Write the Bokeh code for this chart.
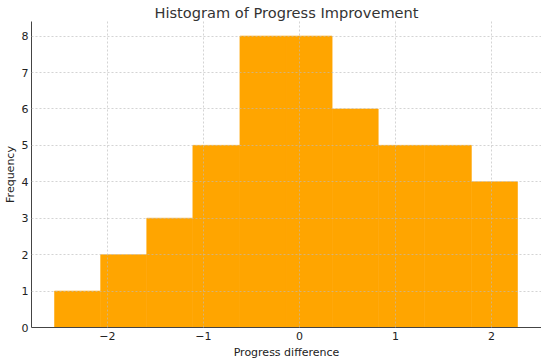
from bokeh.plotting import figure
from bokeh.models import ColumnDataSource, Range1d, FixedTicker
from bokeh.embed import file_html
from bokeh.resources import INLINE

bin_edges = [-2.55, -2.07, -1.59, -1.11, -0.62, -0.14, 0.34, 0.82, 1.30, 1.79, 2.27]
counts = [1, 2, 3, 5, 8, 8, 6, 5, 5, 4]
x_ticks = [-2, -1, 0, 1, 2]
x_tick_labels = ["\u22122", "\u22121", "0", "1", "2"]
y_ticks = [0, 1, 2, 3, 4, 5, 6, 7, 8]

src = ColumnDataSource(dict(left=bin_edges[:-1], right=bin_edges[1:], top=counts,
                            bottom=[0] * len(counts)))

FONT = "DejaVu Sans"
p = figure(frame_width=510, frame_height=306, output_backend="svg", toolbar_location=None,
           title="Histogram of Progress Improvement",
           x_range=Range1d(-2.79, 2.52), y_range=Range1d(0, 8.4),
           min_border_left=0, min_border_right=0, min_border_top=0, min_border_bottom=0)
p.outline_line_color = None
p.background_fill_color = "white"
p.border_fill_color = "white"

p.quad(left="left", right="right", top="top", bottom="bottom", source=src,
       fill_color="#FFA500", line_color="#FFA500", line_width=0.6)

p.title.text_font = FONT
p.title.text_font_size = "14.6px"
p.title.text_font_style = "normal"
p.title.text_color = "#333333"
p.title.align = "center"
p.title.standoff = 2

for ax in (p.xaxis[0], p.yaxis[0]):
    ax.major_tick_out = 0
    ax.major_tick_in = 0
    ax.minor_tick_out = 0
    ax.minor_tick_in = 0
    ax.axis_line_color = "#444444"
    ax.axis_line_width = 1
    ax.major_label_text_font = FONT
    ax.major_label_text_font_size = "11px"
    ax.major_label_text_color = "#222222"
    ax.axis_label_text_font = FONT
    ax.axis_label_text_font_size = "11px"
    ax.axis_label_text_font_style = "normal"
    ax.axis_label_text_color = "#222222"

p.xaxis.major_label_standoff = 4
p.xaxis.axis_label_standoff = 3
p.yaxis.major_label_standoff = 3
p.yaxis.axis_label_standoff = 2

p.xaxis.ticker = FixedTicker(ticks=x_ticks)
p.xaxis.major_label_overrides = {t: l for t, l in zip(x_ticks, x_tick_labels)}
p.yaxis.ticker = FixedTicker(ticks=y_ticks)
p.xaxis.axis_label = "Progress difference"
p.yaxis.axis_label = "Frequency"

for g in (p.xgrid[0], p.ygrid[0]):
    g.grid_line_color = "#bbbbbb"
    g.grid_line_dash = "2 2"
    g.grid_line_width = 0.8
    g.grid_line_alpha = 0.8
    g.level = "overlay"

open("out.html", "w").write(file_html(p, INLINE))
